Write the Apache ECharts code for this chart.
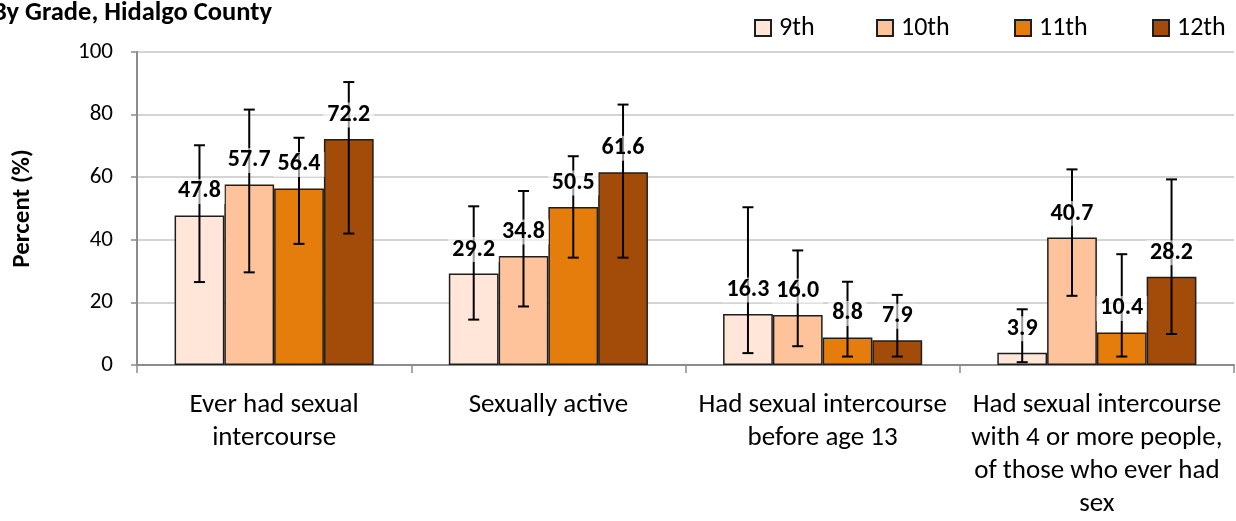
<!DOCTYPE html>
<html>
<head>
<meta charset="utf-8">
<script src="https://cdn.jsdelivr.net/npm/echarts@6/dist/echarts.min.js"></script>
<style>
html,body{margin:0;padding:0;background:#fff;}
#chart{width:1236px;height:521px;}
</style>
</head>
<body>
<div id="chart"></div>
<script>
// ---- data ----
var categories = [
  'Ever had sexual\nintercourse',
  'Sexually active',
  'Had sexual intercourse\nbefore age 13',
  'Had sexual intercourse\nwith 4 or more people,\nof those who ever had\nsex'
];
var grades = ['9th', '10th', '11th', '12th'];
var grade9  = [47.8, 29.2, 16.3, 3.9];
var grade10 = [57.7, 34.8, 16.0, 40.7];
var grade11 = [56.4, 50.5, 8.8, 10.4];
var grade12 = [72.2, 61.6, 7.9, 28.2];
var low9   = [26.5, 14.5, 3.8, 0.9];
var high9  = [70.2, 50.7, 50.4, 17.8];
var low10  = [29.6, 18.7, 6.0, 22.1];
var high10 = [81.6, 55.6, 36.6, 62.5];
var low11  = [38.7, 34.3, 2.7, 2.7];
var high11 = [72.6, 66.7, 26.6, 35.4];
var low12  = [42.0, 34.3, 2.7, 9.9];
var high12 = [90.4, 83.2, 22.4, 59.3];
var yTicks = [0, 20, 40, 60, 80, 100];

var values = [grade9, grade10, grade11, grade12];
var lows = [low9, low10, low11, low12];
var highs = [high9, high10, high11, high12];
var colors = ['#FFE6D8', '#FFC39B', '#E47D0C', '#A34B08'];
var FONT = 'Carlito, Calibri, Lato, sans-serif';
var GAP = 0.274;

var chart = echarts.init(document.getElementById('chart'));

var barSeries = grades.map(function (g, i) {
  return {
    name: g,
    type: 'bar',
    data: values[i],
    barGap: '0%',
    barCategoryGap: (GAP * 100) + '%',
    itemStyle: { color: colors[i], borderColor: '#1e1e1e', borderWidth: 1.5 },
    emphasis: { disabled: true },
    z: 2
  };
});

var errData = [];
for (var g = 0; g < 4; g++) {
  for (var c = 0; c < categories.length; c++) {
    errData.push([c, g, values[g][c], lows[g][c], highs[g][c]]);
  }
}

var errSeries = {
  type: 'custom',
  z: 3,
  silent: true,
  data: errData,
  encode: { x: 0, y: 2 },
  renderItem: function (params, api) {
    var cat = api.value(0), gi = api.value(1), v = api.value(2), lo = api.value(3), hi = api.value(4);
    var base = api.coord([cat, v]);
    var band = api.size([1, 0])[0];
    var bw = band * (1 - GAP) / 4;
    var x = base[0] - 2 * bw + (gi + 0.5) * bw;
    var yHi = api.coord([cat, hi])[1];
    var yLo = api.coord([cat, lo])[1];
    var yV = base[1];
    var cap = 5.5;
    var ls = { stroke: '#000', lineWidth: 2 };
    return {
      type: 'group',
      children: [
        { type: 'line', shape: { x1: x, y1: yHi, x2: x, y2: yLo }, style: ls, z2: 1 },
        { type: 'line', shape: { x1: x - cap, y1: yHi, x2: x + cap, y2: yHi }, style: ls, z2: 1 },
        { type: 'line', shape: { x1: x - cap, y1: yLo, x2: x + cap, y2: yLo }, style: ls, z2: 1 },
        {
          type: 'text', x: x, y: yV - 24, z2: 10,
          style: {
            text: v.toFixed(1),
            align: 'center', verticalAlign: 'middle',
            font: 'bold 24px ' + FONT,
            fill: '#000',
            backgroundColor: 'rgba(255,255,255,0.6)',
            padding: [1, 4, 0, 4]
          }
        }
      ]
    };
  }
};

function legendAt(name, left) {
  return {
    data: [name],
    left: left,
    top: 15,
    icon: 'rect',
    itemWidth: 16,
    itemHeight: 16,
    padding: 0,
    selectedMode: false,
    textStyle: { fontFamily: FONT, fontSize: 26, color: '#000', padding: [0, 0, 0, 3] }
  };
}

chart.setOption({
  animation: false,
  backgroundColor: '#fff',
  grid: { left: 137, right: 2, top: 52, bottom: 154, containLabel: false },
  legend: [legendAt('9th', 754), legendAt('10th', 876), legendAt('11th', 1014), legendAt('12th', 1152)],
  graphic: [{
    type: 'text', x: 272, y: 13,
    style: {
      text: 'By Grade, Hidalgo County',
      align: 'right', verticalAlign: 'middle',
      font: 'bold 26.5px ' + FONT, fill: '#000'
    }
  }],
  xAxis: {
    type: 'category',
    data: categories,
    boundaryGap: true,
    axisLine: { show: true, lineStyle: { color: '#8c8c8c', width: 2 } },
    axisTick: { show: true, alignWithLabel: false, length: 8, lineStyle: { color: '#8c8c8c', width: 1.5 } },
    axisLabel: {
      interval: 0, margin: 24, color: '#000',
      fontFamily: FONT, fontSize: 27, lineHeight: 33, align: 'center'
    },
    splitLine: { show: false }
  },
  yAxis: {
    type: 'value',
    min: yTicks[0], max: yTicks[yTicks.length - 1], interval: 20,
    name: 'Percent (%)',
    nameLocation: 'middle',
    nameGap: 102,
    nameTextStyle: { fontFamily: FONT, fontSize: 25, fontWeight: 'bold', color: '#000' },
    axisLine: { show: true, lineStyle: { color: '#8c8c8c', width: 2 } },
    axisTick: { show: true, inside: false, length: 6, lineStyle: { color: '#8c8c8c', width: 1.5 } },
    axisLabel: { margin: 24, color: '#000', fontFamily: FONT, fontSize: 23 },
    splitLine: { show: true, lineStyle: { color: '#d4d4d4', width: 2 } }
  },
  series: barSeries.concat([errSeries])
});
</script>
</body>
</html>
